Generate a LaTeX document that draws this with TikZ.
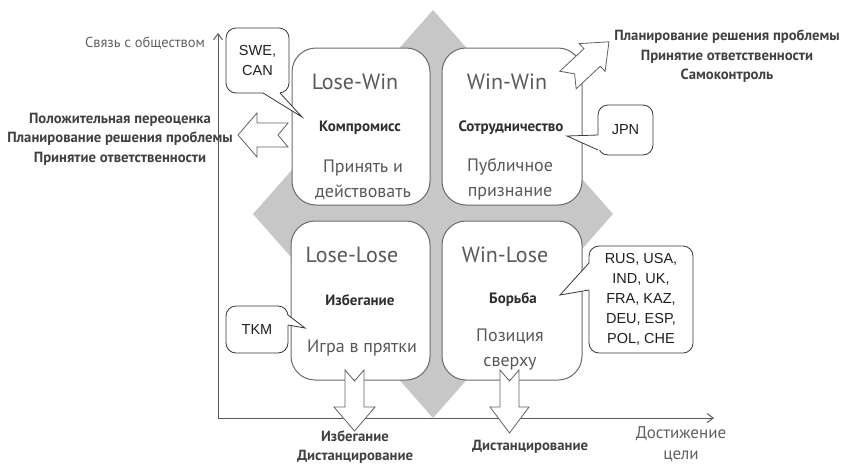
\documentclass[tikz,border=0pt]{standalone}
\usepackage{fontspec}
\setmainfont{PT Sans}
\newfontfamily\arialf{Liberation Sans}
\usetikzlibrary{arrows.meta,calc}
\newcommand{\calloutptr}[4]{%
  \fill[white] ($(#1)+(#4)$) -- (#1) -- (#2) -- (#3) -- ($(#3)+(#4)$) -- cycle;
  \draw[cline] (#1) -- (#2) -- (#3);}
\begin{document}
\begin{tikzpicture}[x=1pt,y=-1pt,
  qbox/.style={draw=black!58, line width=1pt, fill=white, rounded corners=24pt, inner sep=0pt},
  ttl/.style={font=\fontsize{22}{24}\selectfont, text=black!65},
  lbl/.style={font=\bfseries\fontsize{15}{17}\selectfont, text=black!82},
  body/.style={font=\fontsize{18}{25}\selectfont, text=black!65, align=center},
  strat/.style={font=\bfseries\fontsize{14.7}{19.5}\selectfont, text=black!75, align=center},
  axlbl/.style={text=black!62, align=center},
  cline/.style={draw=black!78, line width=0.8pt, line join=miter},
  callbox/.style={cline, fill=white, rounded corners=10pt, inner sep=0pt,
    font=\arialf\fontsize{14.5}{20}\selectfont, align=center, text=black!88},
  barrow/.style={draw=black!62, line width=0.8pt, fill=white, line join=miter},
  axis/.style={draw=black!65, line width=1pt},
]
\useasboundingbox (0,0) rectangle (843,464);
% gray diamond
\fill[black!22] (433,10) -- (613,214) -- (433,418) -- (253,214) -- cycle;
% axes
\coordinate (O) at (218,418);
\coordinate (ytop) at (218,33);
\coordinate (xend) at (714,418);
\draw[axis, -{Straight Barb[length=6pt,width=9pt]}] (O) -- (ytop);
\draw[axis, -{Straight Barb[length=6pt,width=9pt]}] (O) -- (xend);
% quadrant boxes
\node[qbox, minimum width=138pt, minimum height=157pt] (lw) at (361,126.5) {};
\node[qbox, minimum width=140pt, minimum height=157pt] (ww) at (512,126.5) {};
\node[qbox, minimum width=139pt, minimum height=159pt] (ll) at (360.5,300.5) {};
\node[qbox, minimum width=140pt, minimum height=159pt] (wl) at (512,300.5) {};
% texts in boxes
\node[ttl] (t1) at (355,82) {Lose-Win};
\node[lbl] (l1) at (360,128) {Компромисс};
\node[body] (b1) at (363,180) {Принять и\\действовать};
\node[ttl] (t2) at (507,82) {Win-Win};
\node[lbl] (l2) at (511,128) {Сотрудничество};
\node[body] (b2) at (510,179) {Публичное\\признание};
\node[ttl] (t3) at (352,255) {Lose-Lose};
\node[lbl] (l3) at (360,300) {Избегание};
\node[body] (b3) at (362,348) {Игра в прятки};
\node[ttl] (t4) at (505,255) {Win-Lose};
\node[lbl] (l4) at (513,300) {Борьба};
\node[body] (b4) at (510,350) {Позиция\\сверху};
% block arrows
\draw[barrow] (238,135) -- (257,113) -- (257,123) -- (288,123) -- (278,135)
  -- (288,147) -- (257,147) -- (257,157) -- cycle;
\draw[barrow] (354.5,431) -- (375,407) -- (364,407) -- (364,370) -- (354.5,381)
  -- (345,370) -- (345,407) -- (334,407) -- cycle;
\draw[barrow] (509.5,433) -- (529,407) -- (519,407) -- (519,370) -- (509.5,381)
  -- (500,370) -- (500,407) -- (490,407) -- cycle;
\begin{scope}[shift={(568,80)}, rotate=43]
\draw[barrow] (0,-12) -- (33,-12) -- (33,-19) -- (56,0) -- (33,19) -- (33,12)
  -- (0,12) -- (9,0) -- cycle;
\end{scope}
% strategy texts
\node[strat] (s1) at (120,139) {Положительная переоценка\\Планирование решения проблемы\\Принятие ответственности};
\node[strat] (s2) at (727,56.5) {Планирование решения проблемы\\Принятие ответственности\\Самоконтроль};
\node[strat] (s3) at (355,447) {Избегание\\Дистанцирование};
\node[strat] (s4) at (530,447) {Дистанцирование};
% axis labels
\node[axlbl, font=\fontsize{14.5}{17}\selectfont] (ylab) at (145,43) {Связь с обществом};
\node[axlbl, font=\fontsize{17}{21}\selectfont] (xlab) at (681,444) {Достижение\\цели};
% callouts
\node[callbox, minimum width=63pt, minimum height=65pt] (swe) at (257.5,60.5) {SWE,\\CAN};
\calloutptr{263,93}{302,117}{280,93}{0,-2}
\node[callbox, minimum width=55pt, minimum height=50pt] (jpn) at (625.5,130) {JPN};
\calloutptr{598,135}{567,136}{598,150}{2,0}
\node[callbox, minimum width=62pt, minimum height=47pt] (tkm) at (257,329.5) {TKM};
\calloutptr{288,315}{305,328}{288,325}{-2,0}
\node[callbox, minimum width=104pt, minimum height=107pt] (rus) at (641,299.5) {RUS, USA,\\IND, UK,\\FRA, KAZ,\\DEU, ESP,\\POL, CHE};
\calloutptr{589,263}{560,295}{589,290}{2,0}
\end{tikzpicture}
\end{document}
